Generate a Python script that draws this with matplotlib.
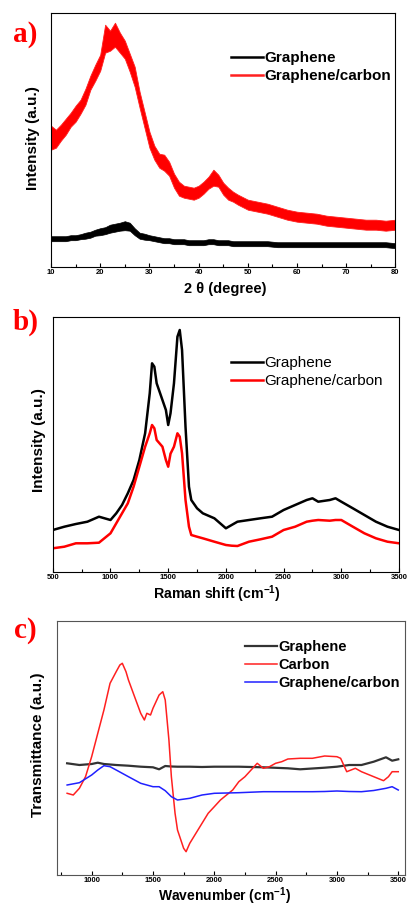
import matplotlib
matplotlib.use("Agg")
import matplotlib.pyplot as plt
from matplotlib.ticker import MultipleLocator
import numpy as np

plt.rcParams['font.family'] = ['Liberation Sans', 'DejaVu Sans']
plt.rcParams['mathtext.fontset'] = 'custom'
plt.rcParams['mathtext.rm'] = 'Liberation Sans:bold'
plt.rcParams['mathtext.bf'] = 'Liberation Sans:bold'

# -----------------------
# a) XRD
# -----------------------
xrd_x = [10, 11, 12, 13, 14, 15, 16, 17, 18, 19, 20, 21, 22, 23, 24, 25, 26, 27, 28, 29,
         30, 31, 32, 33, 34, 35, 36, 37, 38, 39, 40, 41, 42, 43, 44, 45, 46, 47, 48, 50,
         52, 54, 56, 58, 60, 62, 64, 66, 68, 70, 72, 74, 76, 78, 80]
xrd_gc = [129, 128, 134, 140, 147, 153, 160, 170, 184, 194, 204, 228, 226, 232, 224, 217, 204, 190, 167, 147,
          127, 114, 106, 104, 98, 86, 78, 75, 74, 73, 75, 79, 84, 89, 86, 78, 73, 70, 67, 62,
          60, 58, 55, 52, 50, 49, 48, 46, 45, 44, 43, 42, 42, 41, 42]
xrd_gc_spread = [12, 9, 8, 8, 7, 8, 7, 8, 7, 8, 8, 14, 10, 12, 10, 9, 9, 10, 8, 8,
                 8, 7, 7, 8, 7, 7, 7, 6, 6, 6, 6, 6, 6, 8, 6, 6, 6, 5, 5, 5,
                 5, 5, 5, 5, 5, 5, 5, 5, 5, 5, 5, 5, 5, 5, 5]
xrd_g = [28, 28, 28, 28, 29, 29, 30, 31, 32, 34, 35, 36, 38, 39, 40, 41, 40, 35, 31, 30,
         29, 28, 27, 26, 26, 25, 25, 25, 24, 24, 24, 24, 25, 25, 24, 24, 24, 23, 23, 23,
         23, 23, 22, 22, 22, 22, 22, 22, 22, 22, 22, 22, 22, 22, 21]
xrd_g_spread = [2.5, 2.5, 2.5, 2.5, 2.5, 2.5, 2.5, 3, 3, 3, 3.5, 3.5, 4, 4, 4, 4.5, 4, 3.5, 3, 3,
                2.5, 2.5, 2.5, 2.5, 2.5, 2.5, 2.5, 2.5, 2.5, 2.5, 2.5, 2.5, 2.5, 2.5, 2.5, 2.5, 2.5, 2.5, 2.5, 2.5,
                2.5, 2.5, 2.5, 2.5, 2.5, 2.5, 2.5, 2.5, 2.5, 2.5, 2.5, 2.5, 2.5, 2.5, 2.5]

# -----------------------
# b) Raman
# -----------------------
raman_x = [500, 600, 700, 800, 900, 1000, 1050, 1100, 1150, 1200, 1250, 1300, 1340, 1360, 1380,
           1400, 1450, 1480, 1500, 1520, 1550, 1580, 1600, 1620, 1650, 1680, 1700, 1750, 1800,
           1900, 2000, 2050, 2100, 2200, 2300, 2400, 2500, 2600, 2700, 2750, 2800, 2900, 2950,
           3000, 3100, 3200, 3300, 3400, 3500]
raman_g = [41.7, 45, 47.7, 50, 55, 51.7, 58.4, 66.7, 78.4, 91.7, 111.7, 138.4, 178.4, 208.4, 205,
           188.4, 171.7, 161.7, 146.7, 158.4, 188.4, 235, 241.7, 221.7, 145, 85, 71.7, 63.4, 58.4,
           53.4, 43.4, 46.7, 50, 51.7, 53.4, 55, 61.7, 66.7, 71.7, 73.4, 70, 71.7, 73.4,
           70, 63.4, 56.7, 50, 45, 41.7]
raman_gc = [23.4, 25, 28.4, 28.4, 29, 38.4, 48.4, 58.4, 68.4, 85, 105, 125, 138.4, 146.7, 143.4,
            131.7, 125, 111.7, 105, 118, 125, 138.4, 135, 118.4, 71.7, 45, 36.7, 35, 33.4,
            30, 26.7, 26, 25.7, 30, 32.4, 35, 41.7, 45, 50, 51, 51.7, 51, 51.7,
            51.7, 45, 38.4, 33.4, 30, 28.4]

# -----------------------
# c) FTIR
# -----------------------
ir_x_c = [800, 850, 900, 950, 1000, 1050, 1100, 1150, 1200, 1230, 1250, 1280, 1300, 1350, 1400,
          1430, 1450, 1480, 1500, 1550, 1580, 1600, 1630, 1650, 1680, 1700, 1750, 1770, 1800,
          1850, 1900, 1950, 2000, 2050, 2100, 2150, 2200, 2250, 2300, 2350, 2400, 2450, 2500,
          2550, 2600, 2700, 2800, 2900, 3000, 3030, 3080, 3150, 3200, 3300, 3380, 3420, 3450, 3500]
ir_carbon = [81.2, 79.5, 86.2, 97.8, 117.8, 141.2, 164.5, 191.2, 202.8, 209.5, 211.2, 202.8, 194.5, 177.8, 161.2,
             154.5, 161.2, 159.5, 166.2, 179.5, 182.8, 174.5, 134.5, 97.8, 61.2, 44.5, 26.2, 22.8, 31.2,
             41.2, 51.2, 61.2, 67.8, 74.5, 79.5, 84.5, 92.8, 97.8, 104.5, 111.2, 106.2, 107.8, 111.2,
             112.8, 115.5, 116.2, 116.2, 118.5, 117.8, 116.2, 102.8, 106.2, 102.8, 97.8, 93.8, 97.8, 102.8, 102.8]
ir_x = [800, 900, 1000, 1050, 1100, 1150, 1200, 1300, 1400, 1500, 1550, 1600, 1650, 1700, 1800,
        1900, 2000, 2200, 2400, 2600, 2700, 2800, 2900, 3000, 3100, 3200, 3300, 3400, 3450, 3500]
ir_graphene = [111.2, 109.5, 110.5, 111.8, 110.5, 110, 109.5, 108.8, 107.8, 107.2, 105.2, 108.5, 108, 107.8, 107.8,
               107.5, 107.8, 107.8, 107.2, 106.2, 105.2, 106, 106.8, 107.8, 109.5, 109.5, 112.8, 117.2, 113.8, 115.2]
ir_gc = [89.5, 91.8, 99.5, 104.5, 108.8, 107.8, 104.5, 97.8, 91.2, 87.8, 87.8, 83.8, 77.8, 74.5, 76.2,
         79.5, 81.2, 81.8, 82.8, 82.8, 82.8, 82.8, 83, 83.5, 83, 82.8, 84, 86.2, 87.8, 84.5]

W, H = 410, 908
fig = plt.figure(figsize=(W / 100, H / 100), dpi=100)


def make_ax(left, top, right, bottom):
    ax = fig.add_axes([left / W, 1 - bottom / H, (right - left) / W, (bottom - top) / H])
    ax.set_yticks([])
    ax.tick_params(axis='x', direction='in', length=3, width=0.8, labelsize=5.5, pad=2)
    ax.tick_params(axis='x', which='minor', direction='in', length=2, width=0.8)
    return ax


def bold_ticks(ax):
    for lab in ax.get_xticklabels():
        lab.set_fontweight('bold')


# ---- panel a
ax1 = make_ax(51, 13.3, 395.5, 266.7)
xa = np.array(xrd_x)
gc = np.array(xrd_gc)
gcs = np.array(xrd_gc_spread)
g = np.array(xrd_g)
gs = np.array(xrd_g_spread)
ax1.fill_between(xa, gc - gcs, gc + gcs, color='#ff0000', lw=0.6, edgecolor='#ff2020')
ax1.fill_between(xa, g - gs, g + gs, color='black', lw=0.5)
ax1.plot([], [], color='black', lw=1.8, label='Graphene')
ax1.plot([], [], color='#ff2020', lw=1.8, label='Graphene/carbon')
ax1.set_xlim(10, 80)
ax1.set_ylim(0, 253.4)
ax1.xaxis.set_major_locator(MultipleLocator(10))
ax1.xaxis.set_minor_locator(MultipleLocator(5))
bold_ticks(ax1)
ax1.legend(loc='upper left', bbox_to_anchor=(0.522, 0.85), frameon=False, borderpad=0,
           borderaxespad=0, handlelength=2.1, handletextpad=0.1, labelspacing=0.25,
           prop={'size': 11, 'weight': 'bold'})
fig.text(225 / W, 1 - 289 / H, '2 θ (degree)', ha='center', va='center', fontsize=10.5,
         fontweight='bold')
fig.text(33 / W, 1 - 138.5 / H, 'Intensity (a.u.)', ha='center', va='center', rotation=90,
         fontsize=11, fontweight='bold')
fig.text(25.5 / W, 1 - 34 / H, 'a)', ha='center', va='center', fontsize=21, fontweight='bold',
         color='#ff0000', family='Liberation Serif')

# ---- panel b
ax2 = make_ax(52.8, 316.7, 399, 571.7)
ax2.plot(raman_x, raman_g, color='black', lw=1.8, label='Graphene')
ax2.plot(raman_x, raman_gc, color='#ff0000', lw=1.8, label='Graphene/carbon')
ax2.set_xlim(500, 3500)
ax2.set_ylim(0, 255)
ax2.xaxis.set_major_locator(MultipleLocator(500))
ax2.xaxis.set_minor_locator(MultipleLocator(250))
bold_ticks(ax2)
ax2.legend(loc='upper left', bbox_to_anchor=(0.515, 0.845), frameon=False, borderpad=0,
           borderaxespad=0, handlelength=2.1, handletextpad=0.1, labelspacing=0.25,
           prop={'size': 11})
fig.text(217 / W, 1 - 594 / H, r'Raman shift (cm$^{-1}$)', ha='center', va='center',
         fontsize=10.2, fontweight='bold')
fig.text(39 / W, 1 - 440 / H, 'Intensity (a.u.)', ha='center', va='center', rotation=90,
         fontsize=11, fontweight='bold')
fig.text(26 / W, 1 - 322 / H, 'b)', ha='center', va='center', fontsize=21, fontweight='bold',
         color='#ff0000', family='Liberation Serif')

# ---- panel c
ax3 = make_ax(56.7, 620.5, 405, 874.5)
for sp in ax3.spines.values():
    sp.set_color('#555555')
ax3.plot(ir_x, ir_graphene, color='#333333', lw=1.6, label='Graphene')
ax3.plot(ir_x_c, ir_carbon, color='#ff2020', lw=1.1, label='Carbon')
ax3.plot(ir_x, ir_gc, color='#2020ff', lw=1.1, label='Graphene/carbon')
ax3.set_xlim(715, 3555)
ax3.set_ylim(0, 254)
ax3.xaxis.set_major_locator(MultipleLocator(500))
ax3.xaxis.set_minor_locator(MultipleLocator(250))
bold_ticks(ax3)
ax3.legend(loc='upper left', bbox_to_anchor=(0.541, 0.924), frameon=False, borderpad=0,
           borderaxespad=0, handlelength=2.2, handletextpad=0.1, labelspacing=0.27,
           prop={'size': 10.5, 'weight': 'bold'})
fig.text(225 / W, 1 - 896 / H, r'Wavenumber (cm$^{-1}$)', ha='center', va='center',
         fontsize=10, fontweight='bold')
fig.text(38 / W, 1 - 745 / H, 'Transmittance (a.u.)', ha='center', va='center', rotation=90,
         fontsize=11, fontweight='bold')
fig.text(25 / W, 1 - 630 / H, 'c)', ha='center', va='center', fontsize=21, fontweight='bold',
         color='#ff0000', family='Liberation Serif')

fig.savefig('out.png', dpi=100)
